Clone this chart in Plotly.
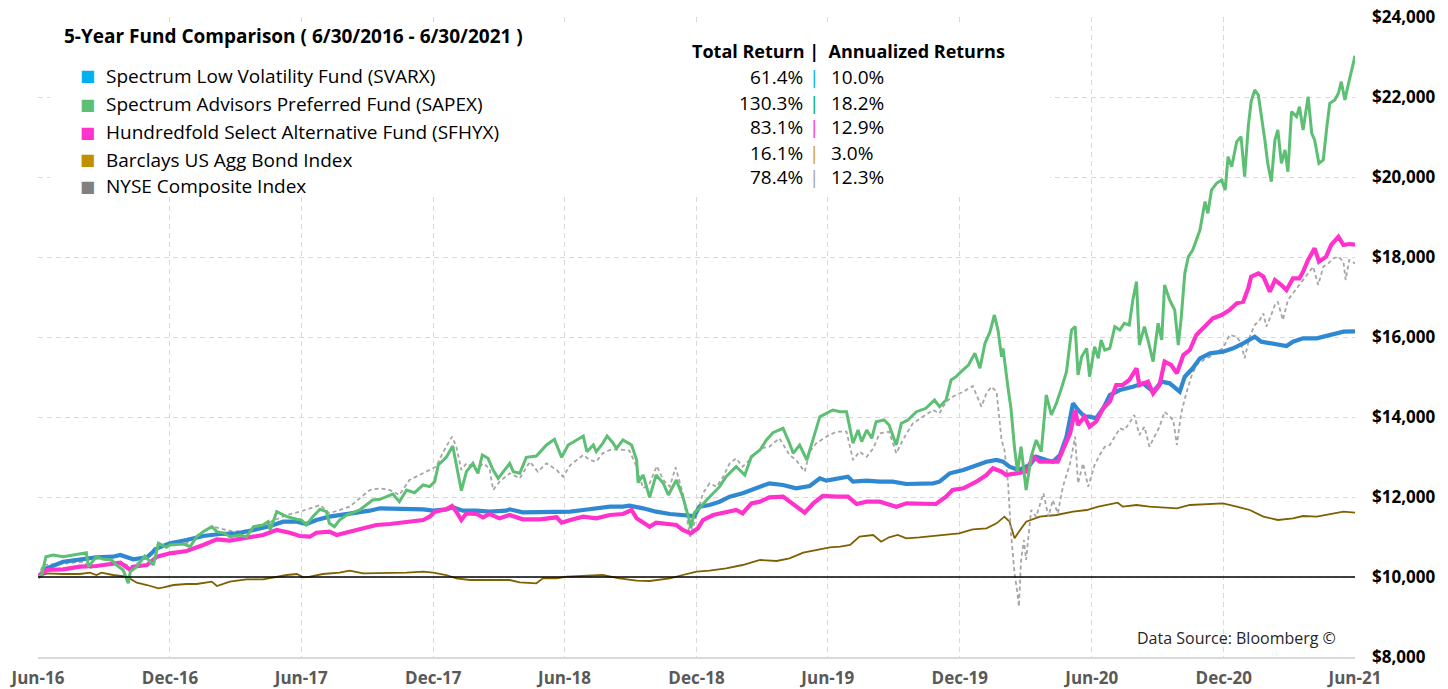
import plotly.graph_objects as go

# ---------------- data ----------------
SAPEX = [
("2016-06-30",10000),("2016-07-05",10050),("2016-07-11",10508),("2016-07-21",10550),("2016-08-04",10508),
("2016-08-18",10550),("2016-08-27",10567),("2016-09-05",10608),("2016-09-08",10258),("2016-09-19",10508),
("2016-09-29",10442),("2016-10-10",10425),("2016-10-17",10300),("2016-10-26",10175),("2016-11-02",9842),
("2016-11-05",10133),("2016-11-14",10258),("2016-11-25",10525),("2016-12-07",10300),("2016-12-14",10842),
("2016-12-25",10742),("2016-12-30",10800),("2017-01-18",10825),("2017-01-27",10758),("2017-02-05",11008),
("2017-02-14",11133),("2017-02-26",11258),("2017-03-05",11133),("2017-03-16",11092),("2017-03-23",11008),
("2017-04-06",11050),("2017-04-15",11008),("2017-04-25",11258),("2017-05-08",11300),("2017-05-15",11383),
("2017-05-18",11175),("2017-05-27",11633),("2017-06-10",11508),("2017-06-24",11442),("2017-06-30",11425),
("2017-07-07",11300),("2017-07-16",11508),("2017-07-26",11692),("2017-08-04",11633),("2017-08-08",11342),
("2017-08-15",11258),("2017-08-22",11425),("2017-09-01",11550),("2017-09-10",11608),("2017-09-19",11675),
("2017-09-28",11800),("2017-10-07",11925),("2017-10-17",11942),("2017-10-26",12008),("2017-11-04",12075),
("2017-11-13",11883),("2017-11-23",12175),("2017-12-04",12108),("2017-12-16",12300),("2017-12-25",12258),
("2018-01-01",12383),("2018-01-06",12800),("2018-01-17",12992),("2018-01-26",13275),("2018-02-02",12675),
("2018-02-07",12158),("2018-02-14",12633),("2018-02-23",12842),("2018-03-02",12592),("2018-03-08",13050),
("2018-03-16",12967),("2018-03-23",12675),("2018-03-30",12467),("2018-04-06",12633),("2018-04-15",12842),
("2018-04-20",12633),("2018-04-29",12592),("2018-05-08",12992),("2018-05-22",13025),("2018-06-05",13300),
("2018-06-16",13442),("2018-06-26",12992),("2018-07-05",13300),("2018-07-17",13425),("2018-07-26",13525),
("2018-07-31",13133),("2018-08-09",13300),("2018-08-13",13133),("2018-08-22",13342),("2018-08-28",13525),
("2018-09-05",13358),("2018-09-10",13217),("2018-09-19",13425),("2018-10-01",13300),("2018-10-08",12925),
("2018-10-10",12358),("2018-10-17",12550),("2018-10-26",11992),("2018-11-04",12550),("2018-11-14",12342),
("2018-11-21",12050),("2018-12-02",12425),("2018-12-11",12008),("2018-12-20",11425),("2018-12-22",11217),
("2018-12-27",11608),("2019-01-03",11717),("2019-01-13",11925),("2019-01-22",12092),("2019-01-31",12258),
("2019-02-09",12508),("2019-02-23",12758),("2019-03-07",12550),("2019-03-16",13008),("2019-03-28",13175),
("2019-04-06",13425),("2019-04-15",13608),("2019-04-29",13717),("2019-05-08",13342),("2019-05-13",13092),
("2019-05-22",13300),("2019-06-01",12925),("2019-06-10",13467),("2019-06-19",14008),("2019-06-28",14092),
("2019-07-07",14175),("2019-07-17",14133),("2019-07-26",14133),("2019-08-04",13342),("2019-08-11",13675),
("2019-08-16",13383),("2019-08-23",13675),("2019-08-30",13467),("2019-09-05",13883),("2019-09-16",13925),
("2019-09-23",13800),("2019-10-03",13300),("2019-10-10",13842),("2019-10-19",13925),("2019-10-31",14133),
("2019-11-13",14217),("2019-11-25",14425),("2019-12-02",14258),("2019-12-11",14425),("2019-12-18",14925),
("2019-12-25",15008),("2020-01-01",15133),("2020-01-11",15300),("2020-01-20",15592),("2020-01-27",15217),
("2020-02-03",15842),("2020-02-10",16133),("2020-02-16",16550),("2020-02-21",16175),("2020-02-26",15508),
("2020-02-28",15717),("2020-03-06",14717),("2020-03-10",14217),("2020-03-15",13217),("2020-03-19",12633),
("2020-03-24",13258),("2020-03-27",12800),("2020-03-31",12175),("2020-04-07",13008),("2020-04-14",13425),
("2020-04-21",13133),("2020-04-28",14550),("2020-05-05",14050),("2020-05-12",14342),("2020-05-19",14717),
("2020-05-26",15133),("2020-06-02",16175),("2020-06-07",16258),("2020-06-11",15050),("2020-06-16",15508),
("2020-06-23",15717),("2020-06-27",15008),("2020-07-04",15758),("2020-07-09",15467),("2020-07-13",15925),
("2020-07-18",15675),("2020-07-25",15717),("2020-08-01",16258),("2020-08-08",16175),("2020-08-14",16342),
("2020-08-21",16300),("2020-08-26",16925),("2020-08-31",17383),("2020-09-04",15800),("2020-09-11",16258),
("2020-09-16",15925),("2020-09-23",15383),("2020-09-30",16342),("2020-10-05",15925),("2020-10-09",17300),
("2020-10-16",16925),("2020-10-23",16675),("2020-10-28",15800),("2020-11-01",16467),("2020-11-06",17592),
("2020-11-11",18008),("2020-11-17",18175),("2020-11-22",18425),("2020-11-27",18675),("2020-12-04",19383),
("2020-12-08",19092),("2020-12-13",19675),("2020-12-20",19842),("2020-12-27",19925),("2021-01-01",19675),
("2021-01-05",20508),("2021-01-10",20258),("2021-01-17",20883),("2021-01-23",21008),("2021-01-28",20008),
("2021-02-02",21258),("2021-02-06",21883),("2021-02-11",22175),("2021-02-16",22050),("2021-02-20",21592),
("2021-02-25",20925),("2021-03-01",20342),("2021-03-06",19883),("2021-03-11",20925),("2021-03-15",21175),
("2021-03-20",20342),("2021-03-25",20675),("2021-03-29",20133),("2021-04-03",21633),("2021-04-10",21508),
("2021-04-14",21758),("2021-04-19",21175),("2021-04-26",22008),("2021-05-01",21092),("2021-05-05",20925),
("2021-05-11",20342),("2021-05-17",20425),("2021-05-22",21258),("2021-05-26",21842),("2021-06-02",21925),
("2021-06-07",22092),("2021-06-11",22383),("2021-06-16",21925),("2021-06-20",22258),("2021-06-25",22675),
("2021-06-30",23030),
]

NYSE = [
("2016-06-30",10000),("2016-07-07",10300),("2016-08-09",10342),("2016-09-01",10383),("2016-09-10",10217),
("2016-09-24",10300),("2016-10-17",10383),("2016-11-09",10258),("2016-12-02",10592),("2016-12-12",10800),
("2017-01-04",10842),("2017-01-22",10842),("2017-02-10",11092),("2017-02-28",11258),("2017-03-28",11133),
("2017-04-20",11175),("2017-05-13",11342),("2017-06-10",11550),("2017-06-28",11633),("2017-07-12",11717),
("2017-07-26",11800),("2017-08-08",11592),("2017-08-22",11675),("2017-09-05",11758),("2017-09-19",11967),
("2017-10-03",12175),("2017-10-17",12217),("2017-10-31",12175),("2017-11-13",12050),("2017-11-27",12425),
("2017-12-11",12550),("2017-12-25",12675),("2018-01-03",12758),("2018-01-13",13133),("2018-01-25",13508),
("2018-01-31",13258),("2018-02-07",12675),("2018-02-14",12842),("2018-02-28",12675),("2018-03-09",12842),
("2018-03-18",12717),("2018-03-23",12175),("2018-04-01",12383),("2018-04-15",12592),("2018-04-29",12467),
("2018-05-13",12883),("2018-05-24",12633),("2018-06-05",12842),("2018-06-19",12675),("2018-06-28",12508),
("2018-07-08",12800),("2018-07-17",12925),("2018-07-26",13050),("2018-08-04",12925),("2018-08-13",12883),
("2018-08-22",13092),("2018-09-01",13175),("2018-09-14",13192),("2018-09-28",13158),("2018-10-08",12758),
("2018-10-17",12217),("2018-10-26",12342),("2018-11-05",12775),("2018-11-14",12425),("2018-11-23",12258),
("2018-12-01",12742),("2018-12-11",12092),("2018-12-21",11008),("2018-12-27",11342),("2019-01-08",12092),
("2019-01-17",12342),("2019-01-27",12258),("2019-02-05",12508),("2019-02-14",12842),("2019-02-23",12967),
("2019-03-04",12758),("2019-03-18",13008),("2019-03-30",13217),("2019-04-10",13258),("2019-04-24",13467),
("2019-05-08",13050),("2019-05-17",12925),("2019-05-29",12633),("2019-06-05",13133),("2019-06-14",13342),
("2019-06-28",13508),("2019-07-12",13633),("2019-07-26",13633),("2019-08-04",12925),("2019-08-13",13133),
("2019-08-23",13008),("2019-09-01",13217),("2019-09-10",13592),("2019-09-23",13633),("2019-10-03",13092),
("2019-10-12",13425),("2019-10-26",13842),("2019-11-09",14008),("2019-11-23",14175),("2019-12-02",14092),
("2019-12-11",14383),("2019-12-20",14508),("2020-01-04",14633),("2020-01-17",14775),("2020-01-29",14258),
("2020-02-05",14592),("2020-02-12",14758),("2020-02-19",14633),("2020-02-26",13425),("2020-03-01",13175),
("2020-03-06",12342),("2020-03-10",11092),("2020-03-15",10092),("2020-03-19",9592),("2020-03-21",9258),
("2020-03-24",10425),("2020-03-28",10925),("2020-03-31",10425),("2020-04-07",11675),("2020-04-14",11508),
("2020-04-24",12092),("2020-05-01",11508),("2020-05-07",11925),("2020-05-14",11592),("2020-05-21",12258),
("2020-05-31",12842),("2020-06-07",13508),("2020-06-11",12342),("2020-06-18",12842),("2020-06-25",12258),
("2020-07-04",12800),("2020-07-11",13050),("2020-07-18",13258),("2020-07-25",13300),("2020-08-01",13508),
("2020-08-08",13717),("2020-08-14",13675),("2020-08-21",13842),("2020-08-28",14050),("2020-09-04",13550),
("2020-09-11",13758),("2020-09-18",13258),("2020-09-25",13508),("2020-10-02",13758),("2020-10-09",14133),
("2020-10-16",14008),("2020-10-21",13925),("2020-10-26",13300),("2020-11-01",14092),("2020-11-08",14592),
("2020-11-15",15008),("2020-11-22",15300),("2020-12-02",15425),("2020-12-11",15508),("2020-12-20",15633),
("2020-12-29",15717),("2021-01-07",16050),("2021-01-17",16008),("2021-01-23",15842),("2021-01-28",15467),
("2021-02-04",16008),("2021-02-11",16300),("2021-02-18",16425),("2021-02-23",16592),("2021-02-27",16258),
("2021-03-04",16467),("2021-03-11",16800),("2021-03-15",16883),("2021-03-22",16425),("2021-03-29",16925),
("2021-04-05",17092),("2021-04-12",17258),("2021-04-19",17425),("2021-04-26",17592),("2021-05-03",17758),
("2021-05-10",17300),("2021-05-17",17758),("2021-05-24",17842),("2021-05-31",17967),("2021-06-07",18008),
("2021-06-14",17883),("2021-06-17",17425),("2021-06-22",17925),("2021-06-30",17840),
]

SVARX = [
("2016-06-30",10000),("2016-07-12",10217),("2016-08-04",10383),("2016-08-27",10442),("2016-09-19",10492),
("2016-10-12",10508),("2016-10-22",10550),("2016-11-09",10442),("2016-11-28",10492),("2016-12-12",10717),
("2016-12-30",10842),("2017-01-22",10925),("2017-02-14",11025),("2017-03-09",11075),("2017-04-02",11092),
("2017-04-25",11175),("2017-05-18",11275),("2017-06-05",11383),("2017-06-24",11383),("2017-07-07",11325),
("2017-07-21",11425),("2017-08-08",11508),("2017-08-27",11550),("2017-09-14",11608),("2017-10-03",11658),
("2017-10-17",11717),("2017-10-31",11717),("2017-11-23",11717),("2017-12-16",11692),("2017-12-30",11658),
("2018-01-17",11692),("2018-01-26",11742),("2018-02-09",11658),("2018-02-28",11658),("2018-03-18",11633),
("2018-04-10",11658),("2018-04-15",11692),("2018-05-03",11617),("2018-05-27",11625),("2018-06-19",11608),
("2018-07-08",11633),("2018-07-26",11675),("2018-08-13",11717),("2018-09-01",11758),("2018-09-19",11758),
("2018-09-28",11783),("2018-10-17",11717),("2018-11-04",11633),("2018-11-23",11575),("2018-12-11",11550),
("2018-12-27",11525),("2019-01-03",11758),("2019-01-17",11800),("2019-01-31",11883),("2019-02-14",12008),
("2019-03-04",12092),("2019-03-23",12217),("2019-04-10",12342),("2019-04-29",12300),("2019-05-17",12217),
("2019-06-05",12275),("2019-06-19",12467),("2019-06-28",12408),("2019-07-12",12467),("2019-07-28",12508),
("2019-08-04",12383),("2019-08-23",12408),("2019-09-10",12383),("2019-09-28",12383),("2019-10-17",12325),
("2019-11-04",12342),("2019-11-23",12342),("2019-12-02",12383),("2019-12-16",12592),("2020-01-04",12675),
("2020-01-22",12800),("2020-02-05",12883),("2020-02-19",12925),("2020-02-28",12883),("2020-03-08",12758),
("2020-03-21",12675),("2020-04-05",12800),("2020-04-14",13008),("2020-04-28",12925),("2020-05-07",12883),
("2020-05-17",13050),("2020-05-26",13508),("2020-06-04",14342),("2020-06-11",14175),("2020-06-20",14008),
("2020-06-27",14008),("2020-07-06",13967),("2020-07-16",14217),("2020-07-25",14550),("2020-08-08",14675),
("2020-08-26",14758),("2020-09-09",14842),("2020-09-23",14633),("2020-10-05",14883),("2020-10-16",14842),
("2020-10-30",14633),("2020-11-06",15008),("2020-11-17",15217),("2020-11-27",15467),("2020-12-11",15592),
("2020-12-29",15633),("2021-01-12",15717),("2021-01-26",15842),("2021-02-11",16008),("2021-02-20",15883),
("2021-03-08",15842),("2021-03-27",15775),("2021-04-05",15883),("2021-04-19",15967),("2021-05-08",15967),
("2021-05-26",16050),("2021-06-14",16133),("2021-06-30",16140),
]

SFHYX = [
("2016-06-30",10000),("2016-07-12",10175),("2016-08-04",10192),("2016-08-27",10258),("2016-09-19",10275),
("2016-10-12",10342),("2016-10-22",10358),("2016-11-05",10175),("2016-11-09",10258),("2016-11-28",10300),
("2016-12-12",10508),("2016-12-30",10592),("2017-01-22",10650),("2017-02-14",10800),("2017-03-05",10942),
("2017-03-23",10908),("2017-04-15",10967),("2017-05-08",11050),("2017-05-27",11175),("2017-06-14",11108),
("2017-06-28",11025),("2017-07-12",11008),("2017-07-21",11108),("2017-08-08",11133),("2017-08-18",11050),
("2017-09-05",11133),("2017-09-24",11217),("2017-10-12",11300),("2017-10-31",11325),("2017-11-23",11383),
("2017-12-16",11425),("2017-12-25",11508),("2018-01-01",11633),("2018-01-17",11692),("2018-01-25",11775),
("2018-01-31",11633),("2018-02-07",11425),("2018-02-14",11592),("2018-02-28",11575),("2018-03-09",11492),
("2018-03-18",11575),("2018-04-01",11467),("2018-04-15",11550),("2018-05-03",11442),("2018-05-27",11442),
("2018-06-19",11492),("2018-06-26",11358),("2018-07-08",11425),("2018-07-26",11508),("2018-08-13",11467),
("2018-09-01",11550),("2018-09-19",11575),("2018-10-01",11675),("2018-10-08",11467),("2018-10-26",11258),
("2018-11-04",11358),("2018-11-23",11325),("2018-12-02",11300),("2018-12-11",11175),("2018-12-22",11092),
("2019-01-01",11217),("2019-01-08",11425),("2019-01-22",11550),("2019-02-09",11608),("2019-02-23",11675),
("2019-03-04",11592),("2019-03-16",11842),("2019-03-28",11883),("2019-04-10",11992),("2019-04-29",12008),
("2019-05-17",11758),("2019-05-29",11608),("2019-06-10",11842),("2019-06-23",12025),("2019-07-12",12008),
("2019-07-28",12008),("2019-08-09",11825),("2019-08-23",11883),("2019-09-10",11883),("2019-10-03",11758),
("2019-10-17",11842),("2019-11-13",11842),("2019-11-27",11825),("2019-12-11",12008),("2019-12-20",12175),
("2020-01-04",12217),("2020-01-22",12383),("2020-02-05",12550),("2020-02-14",12717),("2020-02-26",12633),
("2020-03-03",12550),("2020-03-17",12592),("2020-03-31",12633),("2020-04-10",13008),("2020-04-19",12883),
("2020-05-03",12883),("2020-05-14",12883),("2020-05-21",13175),("2020-05-31",13592),("2020-06-07",14175),
("2020-06-11",13800),("2020-06-20",14008),("2020-06-27",13758),("2020-07-06",13883),("2020-07-16",14217),
("2020-07-25",14383),("2020-08-03",14800),("2020-08-12",14800),("2020-08-21",14925),("2020-08-31",15217),
("2020-09-04",14800),("2020-09-16",14883),("2020-09-23",14592),("2020-10-02",14800),("2020-10-09",15383),
("2020-10-18",15300),("2020-10-26",15092),("2020-11-04",15550),("2020-11-13",15675),("2020-11-22",16050),
("2020-12-04",16258),("2020-12-15",16467),("2020-12-27",16550),("2021-01-07",16675),("2021-01-17",16842),
("2021-01-26",16883),("2021-02-02",17217),("2021-02-06",17508),("2021-02-16",17592),("2021-02-23",17508),
("2021-03-04",17133),("2021-03-11",17425),("2021-03-20",17300),("2021-03-27",17175),("2021-04-05",17467),
("2021-04-14",17467),("2021-04-19",17633),("2021-04-26",17925),("2021-05-05",18217),("2021-05-11",17883),
("2021-05-21",18008),("2021-05-28",18300),("2021-06-07",18508),("2021-06-14",18300),("2021-06-22",18325),
("2021-06-30",18310),
]

AGG = [
("2016-06-30",10000),("2016-07-12",10092),("2016-08-04",10075),("2016-08-27",10075),("2016-09-10",10108),
("2016-09-19",10050),("2016-09-26",10108),("2016-10-12",10050),("2016-10-31",10008),("2016-11-07",9942),
("2016-11-14",9858),("2016-11-28",9800),("2016-12-14",9717),("2016-12-21",9742),("2017-01-04",9800),
("2017-01-22",9825),("2017-02-05",9825),("2017-02-26",9883),("2017-03-05",9775),("2017-03-23",9883),
("2017-04-15",9942),("2017-05-08",9942),("2017-05-27",10008),("2017-06-10",10050),("2017-06-24",10075),
("2017-07-03",9992),("2017-07-12",10008),("2017-07-30",10075),("2017-08-22",10108),("2017-09-05",10158),
("2017-09-24",10092),("2017-10-12",10092),("2017-10-31",10108),("2017-11-23",10108),("2017-12-16",10133),
("2017-12-30",10108),("2018-01-17",10050),("2018-01-31",9967),("2018-02-19",9925),("2018-03-09",9925),
("2018-03-28",9942),("2018-04-15",9925),("2018-04-29",9867),("2018-05-22",9842),("2018-05-31",9967),
("2018-06-19",9967),("2018-07-03",10008),("2018-07-31",10025),("2018-08-22",10050),("2018-09-14",9967),
("2018-10-08",9908),("2018-10-26",9900),("2018-11-23",9967),("2018-12-11",10050),("2018-12-30",10133),
("2019-01-17",10158),("2019-02-09",10217),("2019-03-04",10300),("2019-03-28",10425),("2019-04-20",10400),
("2019-05-08",10467),("2019-05-27",10608),("2019-06-14",10675),("2019-07-03",10742),("2019-07-17",10758),
("2019-07-31",10800),("2019-08-13",11008),("2019-09-01",11050),("2019-09-12",10883),("2019-09-23",10992),
("2019-10-05",11050),("2019-10-17",10967),("2019-11-04",10992),("2019-11-23",11025),("2019-12-11",11050),
("2019-12-29",11092),("2020-01-17",11192),("2020-02-05",11217),("2020-02-19",11342),("2020-03-01",11508),
("2020-03-08",11383),("2020-03-15",10967),("2020-03-21",11133),("2020-03-31",11383),("2020-04-19",11508),
("2020-05-12",11550),("2020-06-04",11633),("2020-06-23",11675),("2020-07-09",11758),("2020-08-05",11858),
("2020-08-12",11758),("2020-08-31",11800),("2020-09-18",11758),("2020-10-09",11742),("2020-10-26",11717),
("2020-11-13",11800),("2020-12-02",11825),("2020-12-29",11842),("2021-01-17",11758),("2021-02-04",11675),
("2021-02-23",11508),("2021-03-15",11425),("2021-04-05",11467),("2021-04-19",11525),("2021-05-08",11508),
("2021-05-26",11575),("2021-06-14",11633),("2021-06-30",11610),
]

BASELINE = 10000
FUND_NAMES = ["Spectrum Low Volatility Fund (SVARX)", "Spectrum Advisors Preferred Fund (SAPEX)",
              "Hundredfold Select Alternative Fund (SFHYX)", "Barclays US Agg Bond Index", "NYSE Composite Index"]
TOTAL_RETURN = ["61.4%", "130.3%", "83.1%", "16.1%", "78.4%"]
ANNUALIZED = ["10.0%", "18.2%", "12.9%", "3.0%", "12.3%"]
LEGEND_COLORS = ["#00B0F0", "#5CBF73", "#FF33CC", "#BF9000", "#808080"]
BAR_COLORS = ["#00B0F0", "#00B050", "#FF33CC", "#D4A017", "#A6A6A6"]

X_TICKS = ["2016-06-30", "2016-12-30", "2017-06-30", "2017-12-30", "2018-06-30", "2018-12-30",
           "2019-06-30", "2019-12-30", "2020-06-30", "2020-12-30", "2021-06-30"]
X_TICKTEXT = ["Jun-16", "Dec-16", "Jun-17", "Dec-17", "Jun-18", "Dec-18",
              "Jun-19", "Dec-19", "Jun-20", "Dec-20", "Jun-21"]
Y_TICKS = [8000, 10000, 12000, 14000, 16000, 18000, 20000, 22000, 24000]
Y_TICKTEXT = ["$8,000", "$10,000", "$12,000", "$14,000", "$16,000", "$18,000", "$20,000", "$22,000", "$24,000"]

FONT = "Open Sans"

fig = go.Figure()

def add(series, color, width, dash="solid"):
    fig.add_trace(go.Scatter(x=[d for d, _ in series], y=[v for _, v in series], mode="lines",
                             line=dict(color=color, width=width, dash=dash), showlegend=False,
                             hoverinfo="skip"))

add(AGG, "#7F6000", 1.8)
add(NYSE, "#A6A6A6", 1.8, "4px,3px")
add(SVARX, "#2E88D2", 4.2)
add(SFHYX, "#FF33CC", 4.2)
add(SAPEX, "#5CBF73", 3)

grid = dict(showgrid=True, gridcolor="#D9D9D9", gridwidth=1, griddash="5px,4px")

fig.update_layout(
    width=1448, height=689,
    margin=dict(l=38, r=93, t=17, b=32),
    paper_bgcolor="white", plot_bgcolor="white",
    font=dict(family=FONT, color="#000000"),
    xaxis=dict(type="date", range=["2016-06-30", "2021-06-30"], tickvals=X_TICKS, ticktext=X_TICKTEXT,
               tickfont=dict(family=FONT, size=17, color="#595959", weight="bold"), ticks="",
               automargin=False, showline=True, linecolor="#D9D9D9", linewidth=1.5, zeroline=False,
               ticklabelstandoff=5, **grid),
    yaxis=dict(range=[8000, 24000], side="right", tickvals=Y_TICKS, ticktext=Y_TICKTEXT,
               tickfont=dict(family=FONT, size=17, color="#000000", weight="bold"), ticks="",
               automargin=False, ticklabelstandoff=16, showline=False, zeroline=False, **grid),
)

# white panel behind the legend / return table
fig.add_shape(type="rect", xref="paper", yref="paper", x0=0.0091, x1=0.7684, y0=0.7188, y1=0.9875,
              fillcolor="white", line=dict(width=0), layer="above")

# baseline
fig.add_shape(type="line", xref="paper", yref="y", x0=0, x1=1, y0=BASELINE, y1=BASELINE,
              line=dict(color="black", width=1.6), layer="above")

def px_x(px):
    return (px - 38) / 1317.0

def px_y(py):
    return 1 - (py - 17) / 640.0

fig.add_annotation(xref="paper", yref="paper", x=px_x(62), y=px_y(36), xanchor="left", yanchor="middle",
                   text="<b>5-Year Fund Comparison ( 6/30/2016 - 6/30/2021 )</b>", showarrow=False,
                   font=dict(family=FONT, size=19, color="black"))

rows_left = [76, 104, 132, 160, 186]
for name, col, ry in zip(FUND_NAMES, LEGEND_COLORS, rows_left):
    fig.add_annotation(xref="paper", yref="paper", x=px_x(87), y=px_y(ry), xanchor="center", yanchor="middle",
                       text="■", showarrow=False, font=dict(family="DejaVu Sans", size=16, color=col))
    fig.add_annotation(xref="paper", yref="paper", x=px_x(104), y=px_y(ry), xanchor="left", yanchor="middle",
                       text=name, showarrow=False, font=dict(family=FONT, size=19, color="black"))

fig.add_annotation(xref="paper", yref="paper", x=px_x(690), y=px_y(51), xanchor="left", yanchor="middle",
                   text="<b>Total Return |  Annualized Returns</b>", showarrow=False,
                   font=dict(family=FONT, size=18, color="black"))

rows_right = [77, 103, 127, 153, 177]
for tr, an, col, ry in zip(TOTAL_RETURN, ANNUALIZED, BAR_COLORS, rows_right):
    fig.add_annotation(xref="paper", yref="paper", x=px_x(805), y=px_y(ry), xanchor="right", yanchor="middle",
                       text=tr, showarrow=False, font=dict(family=FONT, size=19, color="black"))
    fig.add_annotation(xref="paper", yref="paper", x=px_x(814), y=px_y(ry), xanchor="center", yanchor="middle",
                       text="|", showarrow=False, font=dict(family=FONT, size=19, color=col))
    fig.add_annotation(xref="paper", yref="paper", x=px_x(829), y=px_y(ry), xanchor="left", yanchor="middle",
                       text=an, showarrow=False, font=dict(family=FONT, size=19, color="black"))

fig.add_annotation(xref="paper", yref="paper", x=px_x(1338), y=px_y(638), xanchor="right", yanchor="middle",
                   text="Data Source: Bloomberg ©", showarrow=False,
                   font=dict(family=FONT, size=16, color="#262626"))

fig.write_html("out.html", config={"displayModeBar": False},
               post_script="document.body.style.margin='0px';")
